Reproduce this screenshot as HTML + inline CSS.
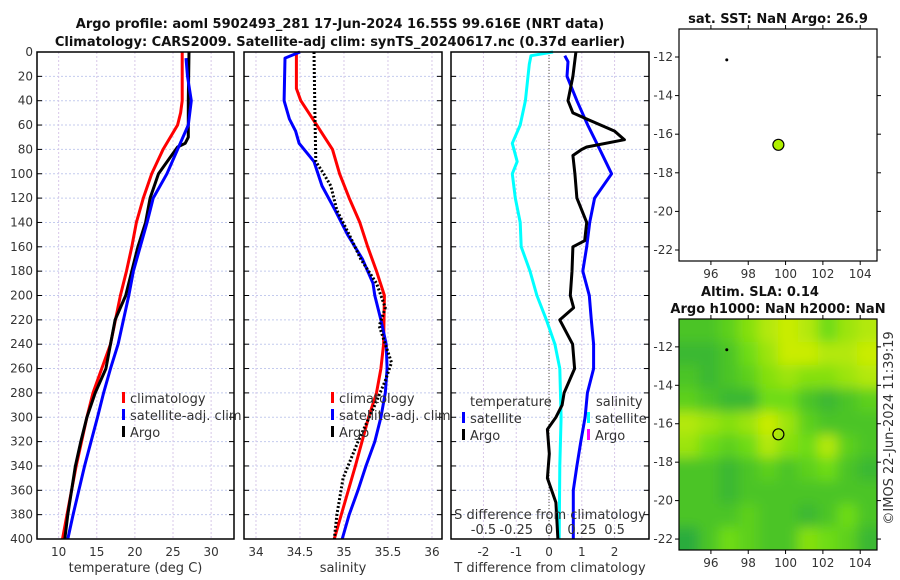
<!DOCTYPE html>
<html><head><meta charset="utf-8"><style>
html,body{margin:0;padding:0;background:#fff;}
svg{display:block;font-family:"DejaVu Sans","Liberation Sans",sans-serif;}
.tk{font-size:12px;fill:#333;}
.ttl{font-size:13px;font-weight:bold;fill:#111;}
.lab{font-size:13px;fill:#333;}
</style></head><body>
<svg id="fig" width="900" height="580" viewBox="0 0 900 580" xmlns="http://www.w3.org/2000/svg">
<defs>
<filter id="blur" x="-10%" y="-10%" width="120%" height="120%"><feGaussianBlur stdDeviation="6"/></filter>
<clipPath id="mapclip"><rect x="679" y="319" width="198" height="231"/></clipPath>
</defs>
<text class="ttl" x="340" y="28" text-anchor="middle">Argo profile: aoml 5902493_281 17-Jun-2024 16.55S 99.616E (NRT data)</text>
<text class="ttl" x="340" y="46" text-anchor="middle">Climatology: CARS2009. Satellite-adj clim: synTS_20240617.nc (0.37d earlier)</text>
<text class="ttl" x="778" y="23" text-anchor="middle">sat. SST: NaN Argo: 26.9</text>
<text class="ttl" x="760" y="296" text-anchor="middle">Altim. SLA: 0.14</text>
<text class="ttl" x="778" y="313" text-anchor="middle">Argo h1000: NaN h2000: NaN</text>
<text class="lab" transform="translate(893,428) rotate(-90)" text-anchor="middle">©IMOS 22-Jun-2024 11:39:19</text>
<g id="plots"></g>
</svg>
<script>
// ---- data ----
const depthTicks = [0,20,40,60,80,100,120,140,160,180,200,220,240,260,280,300,320,340,360,380,400];
const tempTicks = [10,15,20,25,30];
const salTicks = [34,34.5,35,35.5,36];
const diffTicks = [-2,-1,0,1,2];
const sdiffTickLabels = ["-0.5","-0.25","0","0.25","0.5"];
const mapLonTicks = [96,98,100,102,104];
const mapLatTicks = [-12,-14,-16,-18,-20,-22];

const tClimDepth = [0,20,40,50,60,80,100,120,140,160,180,200,240,280,300,340,380,400];
const tClimVal   = [26.2,26.2,26.2,26.0,25.6,23.7,22.2,21.1,20.2,19.6,18.9,18.1,16.8,14.5,13.7,12.3,11.1,10.5];
const tSatDepth = [5,20,40,60,80,100,120,140,160,180,200,240,260,280,300,340,380,400];
const tSatVal   = [26.7,26.9,27.4,27.0,25.6,24.2,22.4,21.6,20.7,19.8,19.2,17.8,16.8,15.9,15.1,13.4,11.9,11.2];
const tArgoDepth = [0,40,70,75,78,85,100,120,140,160,180,200,220,260,280,300,320,340,380,400];
const tArgoVal   = [27.1,27.0,27.0,26.6,25.6,24.8,23.1,22.0,21.4,20.4,19.6,18.8,17.4,16.2,14.8,13.7,12.9,12.2,11.2,10.8];

const sClimDepth = [0,30,40,50,60,80,100,120,140,160,180,200,240,260,280,300,340,380,400];
const sClimVal   = [34.46,34.46,34.51,34.60,34.69,34.87,34.95,35.06,35.18,35.27,35.37,35.46,35.45,35.42,35.37,35.28,35.13,34.97,34.89];
const sSatDepth = [0,5,40,55,65,75,90,110,130,150,170,190,200,220,240,260,280,300,320,340,360,380,400];
const sSatVal   = [34.50,34.33,34.32,34.38,34.45,34.49,34.66,34.75,34.90,35.04,35.21,35.33,35.35,35.42,35.48,35.49,35.47,35.42,35.35,35.25,35.16,35.06,34.98];
const sArgoDepth = [0,50,90,100,110,130,150,170,190,200,210,225,240,255,270,290,320,350,380,400];
const sArgoVal   = [34.66,34.67,34.68,34.77,34.85,34.92,35.06,35.19,35.37,35.42,35.47,35.40,35.47,35.54,35.47,35.35,35.16,34.99,34.92,34.89];

const dTSatDepth = [3,8,20,40,60,80,100,120,140,160,180,200,220,240,260,280,300,320,340,360,400];
const dTSatVal   = [0.48,0.58,0.55,0.85,1.18,1.55,1.91,1.39,1.24,1.15,1.03,1.23,1.29,1.36,1.36,1.17,1.10,0.97,0.85,0.74,0.74];
const dSSatDepth = [0,3,10,40,60,75,90,100,120,140,160,180,200,220,240,260,300,340,400];
const dSSatVal   = [0.12,-0.55,-0.60,-0.72,-0.88,-1.12,-0.97,-1.12,-1.03,-0.88,-0.85,-0.58,-0.37,-0.08,0.18,0.33,0.37,0.33,0.31];
const dTArgoDepth = [0,20,40,50,55,65,72,78,80,85,100,120,140,155,160,180,200,210,220,240,260,280,290,300,310,330,350,370,400];
const dTArgoVal   = [0.82,0.73,0.58,0.73,1.15,2.0,2.30,1.15,1.00,0.73,0.79,0.85,1.15,1.09,0.73,0.70,0.65,0.75,0.33,0.72,0.78,0.46,0.40,0.21,-0.05,0.01,-0.05,0.21,0.27];

// SLA map grid (0 = dark green, 1 = yellow), rows north->south, cols west->east
const slaGrid = [
 [0.3,0.3,0.4,0.6,0.8,0.9,0.8,0.5,0.7,0.8],
 [0.2,0.2,0.3,0.5,0.7,0.9,0.9,0.8,0.8,0.9],
 [0.3,0.2,0.3,0.4,0.6,0.7,0.6,0.6,0.7,0.8],
 [0.4,0.3,0.2,0.2,0.5,0.5,0.3,0.2,0.3,0.4],
 [0.8,0.7,0.6,0.7,0.9,0.7,0.4,0.3,0.3,0.3],
 [0.7,0.5,0.4,0.5,0.8,0.6,0.5,0.8,0.4,0.3],
 [0.3,0.3,0.2,0.3,0.4,0.3,0.4,0.5,0.3,0.2],
 [0.3,0.3,0.2,0.3,0.3,0.3,0.3,0.3,0.3,0.3],
 [0.3,0.3,0.3,0.4,0.3,0.3,0.2,0.3,0.5,0.3],
 [0.1,0.3,0.5,0.4,0.3,0.3,0.6,0.5,0.4,0.2]
];
const argoLon = 99.616, argoLat = -16.55;
const refLon = 96.85, refLat = -12.15;

// ---- drawing ----
const NS='http://www.w3.org/2000/svg';
const root=document.getElementById('plots');
function el(tag,attrs,parent){const e=document.createElementNS(NS,tag);for(const k in attrs)e.setAttribute(k,attrs[k]);(parent||root).appendChild(e);return e;}
const TOP=52,BOT=539;
const yD=d=>TOP+(d/400)*(BOT-TOP);

function panel(name,x0,x1,vmin,vmax,ticks,tickLabels,showDepth,xlabel){
  const g=el('g',{});
  
  
  const xs=v=>x0+(v-vmin)/(vmax-vmin)*(x1-x0);
  depthTicks.forEach(d=>{
    if(d>0&&d<400){const l=el('line',{x1:x0,x2:x1,y1:yD(d),y2:yD(d),stroke:'#c4cbee','stroke-width':1,'stroke-dasharray':'2,2'},g);
    }
    el('line',{x1:x0,x2:x0+5,y1:yD(d),y2:yD(d),stroke:'#000'},g);
    el('line',{x1:x1-5,x2:x1,y1:yD(d),y2:yD(d),stroke:'#000'},g);
    if(showDepth){const t=el('text',{x:x0-4,y:yD(d)+4,'text-anchor':'end',class:'tk'},g);t.textContent=d;
      }
  });
  ticks.forEach((v,i)=>{
    const l=el('line',{x1:xs(v),x2:xs(v),y1:TOP,y2:BOT,stroke:'#d8c8e8','stroke-width':1,'stroke-dasharray':'2,2'},g);
    
    const t=el('text',{x:xs(v),y:556,'text-anchor':'middle',class:'tk'},g);t.textContent=tickLabels[i];
    
  });
  const xl=el('text',{x:(x0+x1)/2,y:572,'text-anchor':'middle',class:'lab'},g);xl.textContent=xlabel;
  
  return {g,xs};
}
function line(p,depths,vals,color,name,dash){
  const pts=depths.map((d,i)=>p.xs(vals[i]).toFixed(1)+','+yD(d).toFixed(1)).join(' ');
  const a={points:pts,fill:'none',stroke:color,'stroke-width':3,'stroke-linejoin':'round'};
  if(dash)a['stroke-dasharray']=dash;
  const l=el('polyline',a,p.g);
  
  
}
function frame(p,x0,x1){el('rect',{x:x0,y:TOP,width:x1-x0,height:BOT-TOP,fill:'none',stroke:'#000','stroke-width':1.5},p.g);}
function legendEntry(g,x,y,color,text,name){
  el('rect',{x:x,y:y-9,width:3,height:11,fill:color},g);
  const t=el('text',{x:x+8,y:y+2,class:'lab'},g);t.textContent=text;
  
}

// Panel 1: temperature
const p1=panel('temperature-panel',37,234,7.16,33.0,tempTicks,tempTicks.map(String),true,'temperature (deg C)');
line(p1,tClimDepth,tClimVal,'#f00','temp-climatology-line');
line(p1,tArgoDepth,tArgoVal,'#000','temp-argo-line');
line(p1,tSatDepth,tSatVal,'#00f','temp-satellite-line');
frame(p1,37,234);
legendEntry(p1.g,122,401,'#f00','climatology','legend-climatology');
legendEntry(p1.g,122,418,'#00f','satellite-adj. clim','legend-satellite');
legendEntry(p1.g,122,435,'#000','Argo','legend-argo');

// Panel 2: salinity
const p2=panel('salinity-panel',244,442,33.864,36.114,salTicks,salTicks.map(String),false,'salinity');
line(p2,sClimDepth,sClimVal,'#f00','sal-climatology-line');
line(p2,sSatDepth,sSatVal,'#00f','sal-satellite-line');
line(p2,sArgoDepth,sArgoVal,'#000','sal-argo-line','2,2');
frame(p2,244,442);
legendEntry(p2.g,331,401,'#f00','climatology','legend-climatology');
legendEntry(p2.g,331,418,'#00f','satellite-adj. clim','legend-satellite');
legendEntry(p2.g,331,435,'#000','Argo','legend-argo');

// Panel 3: differences
const p3=panel('difference-panel',451,649,-2.99,3.05,diffTicks,diffTicks.map(String),false,'T difference from climatology');
const z=el('line',{x1:p3.xs(0),x2:p3.xs(0),y1:TOP,y2:BOT,stroke:'#554','stroke-width':1,'stroke-dasharray':'1,2'},p3.g);

line(p3,dSSatDepth,dSSatVal,'#0ff','sal-diff-satellite-line');
line(p3,dTSatDepth,dTSatVal,'#00f','temp-diff-satellite-line');
line(p3,dTArgoDepth,dTArgoVal,'#000','temp-diff-argo-line');
frame(p3,451,649);
let t=el('text',{x:470,y:406,class:'lab'},p3.g);t.textContent='temperature';

t=el('text',{x:596,y:406,class:'lab'},p3.g);t.textContent='salinity';

legendEntry(p3.g,462,421,'#00f','satellite','legend-temp-satellite');
legendEntry(p3.g,462,438,'#000','Argo','legend-temp-argo');
legendEntry(p3.g,587,421,'#0ff','satellite','legend-sal-satellite');
legendEntry(p3.g,587,438,'#f0f','Argo','legend-sal-argo');
t=el('text',{x:550,y:519,'text-anchor':'middle',class:'lab'},p3.g);t.textContent='S difference from climatology';

diffTicks.forEach((v,i)=>{const s=el('text',{x:p3.xs(v),y:534,'text-anchor':'middle',class:'lab'},p3.g);s.textContent=sdiffTickLabels[i];
  });

// Maps
const LON0=94.29,LON1=104.9,LAT0=-10.55,LAT1=-22.57;
function map(name,x0,y0,x1,y1){
  const g=el('g',{});
  
  
  const xs=v=>x0+(v-LON0)/(LON1-LON0)*(x1-x0);
  const ys=v=>y0+(v-LAT0)/(LAT1-LAT0)*(y1-y0);
  return {g,xs,ys,x0,y0,x1,y1};
}
function mapAxes(m,lbl){
  el('rect',{x:m.x0,y:m.y0,width:m.x1-m.x0,height:m.y1-m.y0,fill:'none',stroke:'#000','stroke-width':1.2},m.g);
  mapLonTicks.forEach(v=>{el('line',{x1:m.xs(v),x2:m.xs(v),y1:m.y1,y2:m.y1+4,stroke:'#000'},m.g);
    el('line',{x1:m.xs(v),x2:m.xs(v),y1:m.y0,y2:m.y0-4,stroke:'#000'},m.g);
    const s=el('text',{x:m.xs(v),y:m.y1+17,'text-anchor':'middle',class:'tk'},m.g);s.textContent=v;
    });
  mapLatTicks.forEach(v=>{el('line',{x1:m.x0-4,x2:m.x0,y1:m.ys(v),y2:m.ys(v),stroke:'#000'},m.g);
    el('line',{x1:m.x1,x2:m.x1+4,y1:m.ys(v),y2:m.ys(v),stroke:'#000'},m.g);
    const s=el('text',{x:m.x0-6,y:m.ys(v)+4,'text-anchor':'end',class:'tk'},m.g);s.textContent=v;
    });
}
function slaColor(v){
  const c0=[25,160,70],c1=[110,220,20],c2=[225,240,0];
  let a,b,f; if(v<0.5){a=c0;b=c1;f=v/0.5;}else{a=c1;b=c2;f=(v-0.5)/0.5;}
  return 'rgb('+a.map((x,i)=>Math.round(x+(b[i]-x)*f)).join(',')+')';
}
// SST map
const m1=map('sst-map',679,29,877,261);
el('rect',{x:679,y:29,width:198,height:232,fill:'#fff'},m1.g);
const rd=el('circle',{cx:m1.xs(refLon),cy:m1.ys(refLat),r:1.5,fill:'#000'},m1.g);

const c1=el('circle',{cx:m1.xs(argoLon),cy:m1.ys(argoLat),r:5.5,fill:'#b0f000',stroke:'#000','stroke-width':1.2},m1.g);

mapAxes(m1);
// SLA map
const m2=map('sla-map',679,319,877,550);
const hg=el('g',{'clip-path':'url(#mapclip)'},m2.g);
const hb=el('g',{filter:'url(#blur)'},hg);
const nR=slaGrid.length,nC=slaGrid[0].length;
const cw=(877-679)/nC,ch=(550-319)/nR;
el('rect',{x:660,y:300,width:240,height:270,fill:slaColor(0.35)},hb);
slaGrid.forEach((row,r)=>row.forEach((v,c)=>{
  const cell=el('rect',{x:679+c*cw-(c==0?20:0),y:319+r*ch-(r==0?20:0),width:cw+1+(c==0||c==nC-1?20:0),height:ch+1+(r==0||r==nR-1?20:0),fill:slaColor(v)},hb);
  
  
}));
const rd2=el('circle',{cx:m2.xs(refLon),cy:m2.ys(refLat),r:1.5,fill:'#000'},m2.g);

const c2=el('circle',{cx:m2.xs(argoLon),cy:m2.ys(argoLat),r:5.5,fill:'none',stroke:'#000','stroke-width':1.2},m2.g);

mapAxes(m2);
</script>
</body></html>
